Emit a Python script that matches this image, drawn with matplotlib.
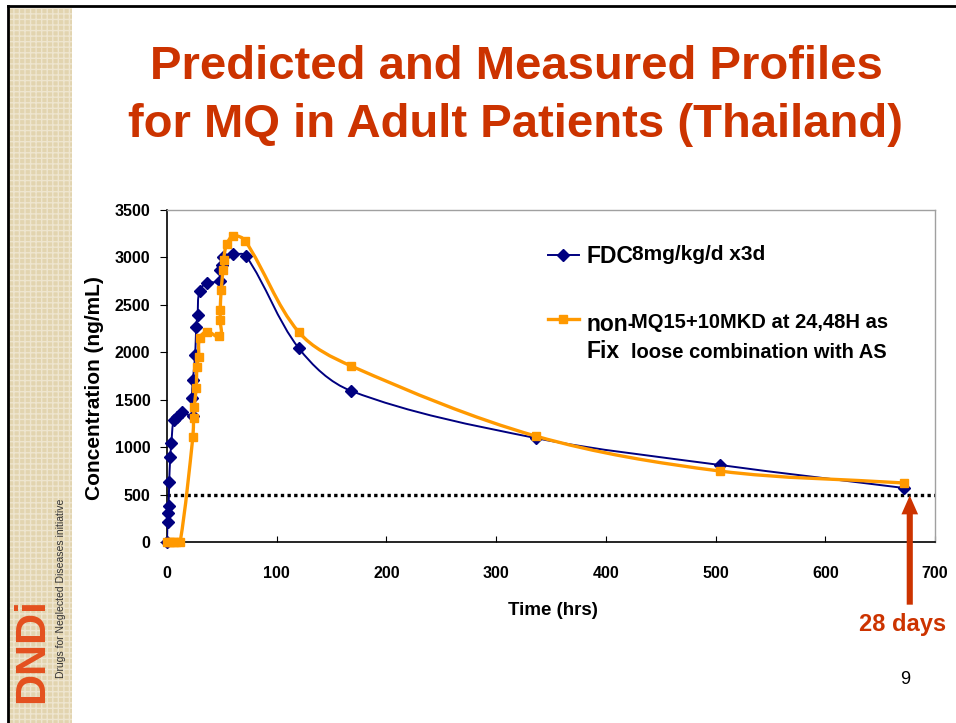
import numpy as np
import matplotlib
matplotlib.use('Agg')
import matplotlib.pyplot as plt
from matplotlib.path import Path
from matplotlib.patches import PathPatch, Rectangle
from matplotlib.lines import Line2D

plt.rcParams['font.family'] = ['Liberation Sans', 'DejaVu Sans']
plt.rcParams['hatch.linewidth'] = 1.0

# FDC 8mg/kg/d x3d
fdc_time = [0, 0.5, 1, 1.5, 2, 3, 4, 6, 9, 13.6, 23.5, 22.7, 23.6, 25.7, 26.6, 27.8,
            29.7, 36.9, 48.5, 48.5, 50, 51, 60, 72, 120, 168, 336, 504, 672]
fdc_conc = [0, 214, 306, 380, 636, 899, 1047, 1286, 1321, 1374, 1330, 1515, 1708, 1971, 2263, 2393,
            2649, 2734, 2751, 2867, 2920, 3008, 3033, 3015, 2045, 1592, 1096, 812, 569]

# non-Fix MQ15+10MKD at 24,48H
nonfix_time = [0, 2, 4, 6, 8, 12, 23.6, 24.2, 24.8, 26.6, 27.3, 28.8, 29.7, 36.4, 47.8,
               48.5, 48.5, 49.4, 51, 51.5, 54.5, 60.6, 71.2, 120, 168, 336, 504, 672]
nonfix_conc = [0, 0, 0, 0, 0, 0, 1110, 1304, 1426, 1620, 1848, 1954, 2147, 2217, 2172,
               2340, 2446, 2657, 2867, 2973, 3141, 3226, 3176, 2214, 1855, 1117, 748, 622]

x_ticks = [0, 100, 200, 300, 400, 500, 600, 700]
y_ticks = [0, 500, 1000, 1500, 2000, 2500, 3000, 3500]
mic_level = 500
arrow_time = 677

W, H = 956, 723
fig = plt.figure(figsize=(W / 100, H / 100), dpi=100)


def px(x, y):
    return x / W, 1 - y / H


# slide decoration: patterned strip and border
fig.patches.append(Rectangle((9 / W, 0), 63 / W, 1 - 8 / H, transform=fig.transFigure,
                             facecolor='#E2D4AF', hatch='+++', edgecolor='#EEE5CF', lw=0, zorder=0))
fig.add_artist(Line2D([8 / W, 8 / W], [0, 1 - 6 / H], transform=fig.transFigure, color='black', lw=2))
fig.add_artist(Line2D([8 / W, 1], [1 - 6 / H, 1 - 6 / H], transform=fig.transFigure, color='black', lw=2))

ax = fig.add_axes([167 / W, 1 - 542 / H, 768 / W, 332 / H])
ax.set_xlim(0, 700)
ax.set_ylim(0, 3500)

# pixel scale so the smoothing follows the screen shape
sx = 768 / 700
sy = 332 / 3500


def smooth_path(x, y):
    # smoothed line: bezier segments through consecutive points
    p = np.column_stack([np.asarray(x, float) * sx, np.asarray(y, float) * sy])
    n = len(p)
    tang = []
    for i in range(n):
        a = p[max(i - 1, 0)]
        b = p[min(i + 1, n - 1)]
        d = b - a
        ln = np.hypot(*d)
        tang.append(d / ln if ln > 0 else d)
    verts = [p[0]]
    codes = [Path.MOVETO]
    for i in range(n - 1):
        seg = np.hypot(*(p[i + 1] - p[i]))
        c1 = p[i] + tang[i] * seg / 3
        c2 = p[i + 1] - tang[i + 1] * seg / 3
        verts += [c1, c2, p[i + 1]]
        codes += [Path.CURVE4] * 3
    verts = np.array(verts) / [sx, sy]
    return Path(verts, codes)


blue = '#000080'
orange = '#FF9900'

ax.add_patch(PathPatch(smooth_path(fdc_time, fdc_conc), fill=False, edgecolor=blue, lw=1.4, zorder=3))
ax.plot(fdc_time, fdc_conc, ls='none', marker='D', ms=6, color=blue, zorder=4, clip_on=False)
ax.add_patch(PathPatch(smooth_path(nonfix_time, nonfix_conc), fill=False, edgecolor=orange, lw=2.4, zorder=5))
ax.plot(nonfix_time, nonfix_conc, ls='none', marker='s', ms=6, color=orange, zorder=6, clip_on=False)

ax.axhline(mic_level, color='black', lw=2.4, ls=(0, (1, 1)), zorder=2)

ax.set_xticks(x_ticks)
ax.set_yticks(y_ticks)
ax.tick_params(axis='x', direction='in', length=4, pad=17, labelsize=11.5)
ax.tick_params(axis='y', direction='out', length=5, pad=7, labelsize=11.5)
for lab in ax.get_xticklabels() + ax.get_yticklabels():
    lab.set_fontweight('bold')
for s in ['top', 'right']:
    ax.spines[s].set_color('#A0A0A0')
    ax.spines[s].set_linewidth(1)
for s in ['left', 'bottom']:
    ax.spines[s].set_color('black')
    ax.spines[s].set_linewidth(1.2)

ax.set_ylabel('Concentration (ng/mL)', fontsize=15, fontweight='bold')
ax.yaxis.set_label_coords(-0.082, 0.464)
ax.set_xlabel('Time (hrs)', fontsize=13.5, fontweight='bold')
ax.xaxis.set_label_coords(0.502, -0.18)

# legend handles
h1 = Line2D([], [], color=blue, lw=1.4, marker='D', ms=6)
h2 = Line2D([], [], color=orange, lw=2.4, marker='s', ms=6)
leg1 = ax.legend([h1], [''], loc='center left', bbox_to_anchor=px(548, 256), bbox_transform=fig.transFigure,
                 frameon=False, borderpad=0, borderaxespad=0, handlelength=2.2, handletextpad=0, fontsize=10)
ax.add_artist(leg1)
ax.legend([h2], [''], loc='center left', bbox_to_anchor=px(548, 320), bbox_transform=fig.transFigure,
          frameon=False, borderpad=0, borderaxespad=0, handlelength=2.2, handletextpad=0, fontsize=10)

fig.text(*px(586, 256), 'FDC', fontsize=16.5, fontweight='bold', ha='left', va='center')
fig.text(*px(632, 254), '8mg/kg/d x3d', fontsize=15, fontweight='bold', ha='left', va='center')
fig.text(*px(586, 331), 'non-', fontsize=16.5, fontweight='bold', ha='left', va='baseline')
fig.text(*px(586, 358), 'Fix', fontsize=16.5, fontweight='bold', ha='left', va='baseline')
fig.text(*px(631, 328), 'MQ15+10MKD at 24,48H as', fontsize=14.5, fontweight='bold', ha='left', va='baseline')
fig.text(*px(631, 358), 'loose combination with AS', fontsize=14.5, fontweight='bold', ha='left', va='baseline')

# 28 days arrow
ax.annotate('', xy=(arrow_time, 520), xytext=(arrow_time, -690), xycoords='data', textcoords='data',
            annotation_clip=False,
            arrowprops=dict(arrowstyle='simple,head_width=0.6,head_length=0.68,tail_width=0.22',
                            mutation_scale=20, color='#CC3300', lw=0))
fig.text(*px(903, 625), '28 days', fontsize=17, fontweight='bold', color='#CC3300', ha='center', va='center')

# title
fig.text(*px(516, 96), 'Predicted and Measured Profiles\nfor MQ in Adult Patients (Thailand)',
         fontsize=34, fontweight='bold', color='#CC3300', ha='center', va='center', linespacing=1.42)

# logo and page number
fig.text(*px(32, 651), 'DNDi', rotation=90, fontsize=31, fontweight='bold', color='#E4501E',
         ha='center', va='center')
fig.text(*px(61, 588), 'Drugs for Neglected Diseases initiative', rotation=90, fontsize=7.5,
         color='#333333', ha='center', va='center')
fig.text(*px(905, 680), '9', fontsize=13, ha='center', va='center')

fig.savefig('out.png', dpi=100)
